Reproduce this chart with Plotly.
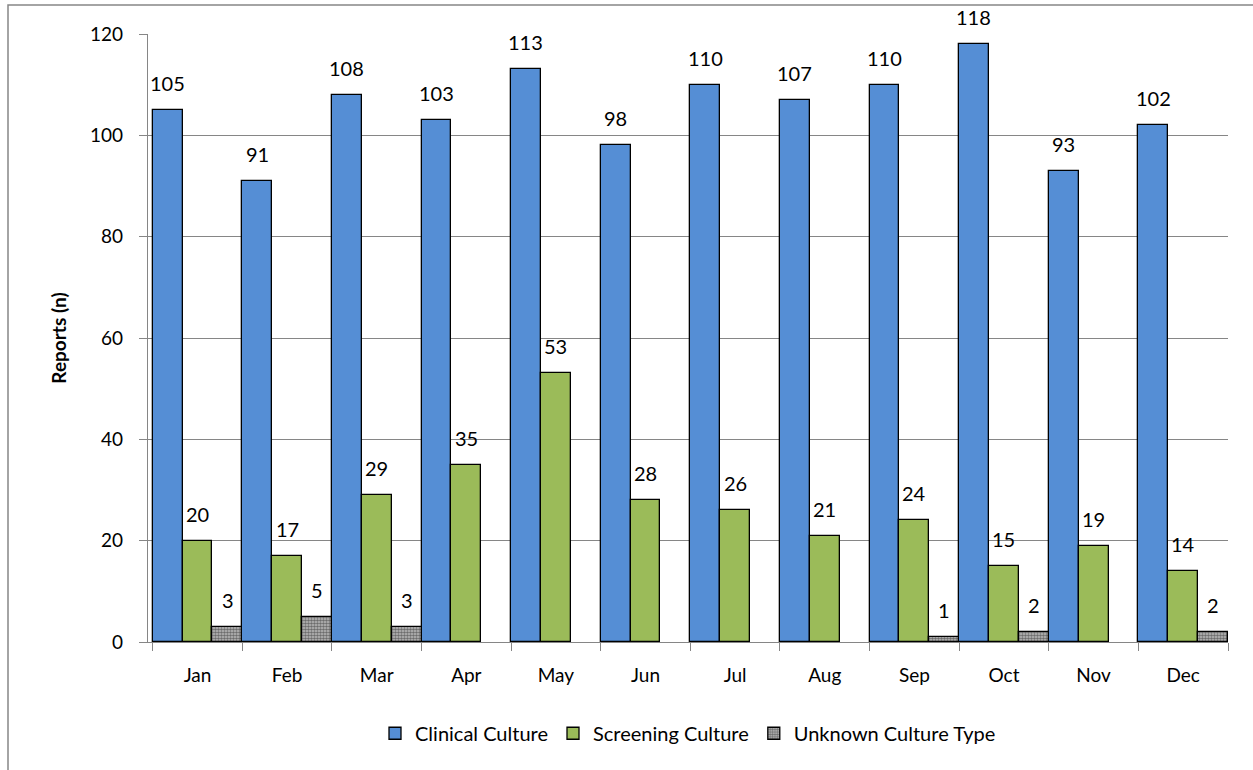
import plotly.graph_objects as go

months = ["Jan", "Feb", "Mar", "Apr", "May", "Jun", "Jul", "Aug", "Sep", "Oct", "Nov", "Dec"]
clinical = [105, 91, 108, 103, 113, 98, 110, 107, 110, 118, 93, 102]
screening = [20, 17, 29, 35, 53, 28, 26, 21, 24, 15, 19, 14]
unknown = [3, 5, 3, None, None, None, None, None, 1, 2, None, 2]

FONT = "Lato"

fig = go.Figure()
fig.add_trace(go.Bar(
    x=months, y=clinical, name="Clinical Culture",
    marker=dict(color="#558ED5", line=dict(color="black", width=1.3)),
))
fig.add_trace(go.Bar(
    x=months, y=screening, name="Screening Culture",
    marker=dict(color="#9BBB59", line=dict(color="black", width=1.3)),
))
fig.add_trace(go.Bar(
    x=months, y=unknown, name="Unknown Culture Type",
    marker=dict(color="#808080", line=dict(color="black", width=1.3),
                pattern=dict(shape=".", fgcolor="#1A1A1A", bgcolor="#BFBFBF", size=3, solidity=0.6)),
))

# value labels above bars
W, H = 1253, 770
L, R, T, B = 148, 25, 34, 128
pw, ph = W - L - R, H - T - B
barw = pw / len(months) / 3
for series, shift in ((clinical, -barw), (screening, 0), (unknown, barw)):
    for m, v in zip(months, series):
        if v is None:
            continue
        fig.add_annotation(x=m, y=v, text=str(v), xshift=shift, yshift=13,
                           yanchor="bottom", showarrow=False,
                           font=dict(size=20, family=FONT, color="black"))

fig.update_layout(
    width=W, height=H,
    margin=dict(l=L, r=R, t=T, b=B, autoexpand=False),
    barmode="group", bargap=0, bargroupgap=0,
    plot_bgcolor="white", paper_bgcolor="white",
    font=dict(family=FONT, size=19, color="black"),
    legend=dict(orientation="h", x=0.5, xanchor="center", y=-0.118, yanchor="top",
                font=dict(size=20, family=FONT), traceorder="normal"),
    xaxis=dict(showline=True, linecolor="#868686", linewidth=1.3, ticks="outside",
               tickson="boundaries", ticklen=8, tickcolor="#868686",
               ticklabelstandoff=16, automargin=False,
               tickfont=dict(size=19, family=FONT)),
    yaxis=dict(range=[0, 120], dtick=20, showgrid=True, gridcolor="#868686", gridwidth=1,
               showline=True, linecolor="#868686", linewidth=1.3, ticks="outside",
               ticklen=8, tickcolor="#868686", zeroline=False,
               ticklabelstandoff=12, automargin=False,
               tickfont=dict(size=19, family=FONT),
               title=dict(text="<b>Reports (n)</b>", font=dict(size=19, family=FONT), standoff=18)),
    showlegend=True,
)

# outer chart border
fig.add_shape(type="rect", xref="paper", yref="paper",
              x0=(8 - L) / pw, x1=(W + 5 - L) / pw,
              y0=-(H + 5 - T - ph) / ph, y1=1 + (T - 5) / ph,
              line=dict(color="#868686", width=1.5), fillcolor="rgba(0,0,0,0)", layer="below")

fig.write_html("out.html")
